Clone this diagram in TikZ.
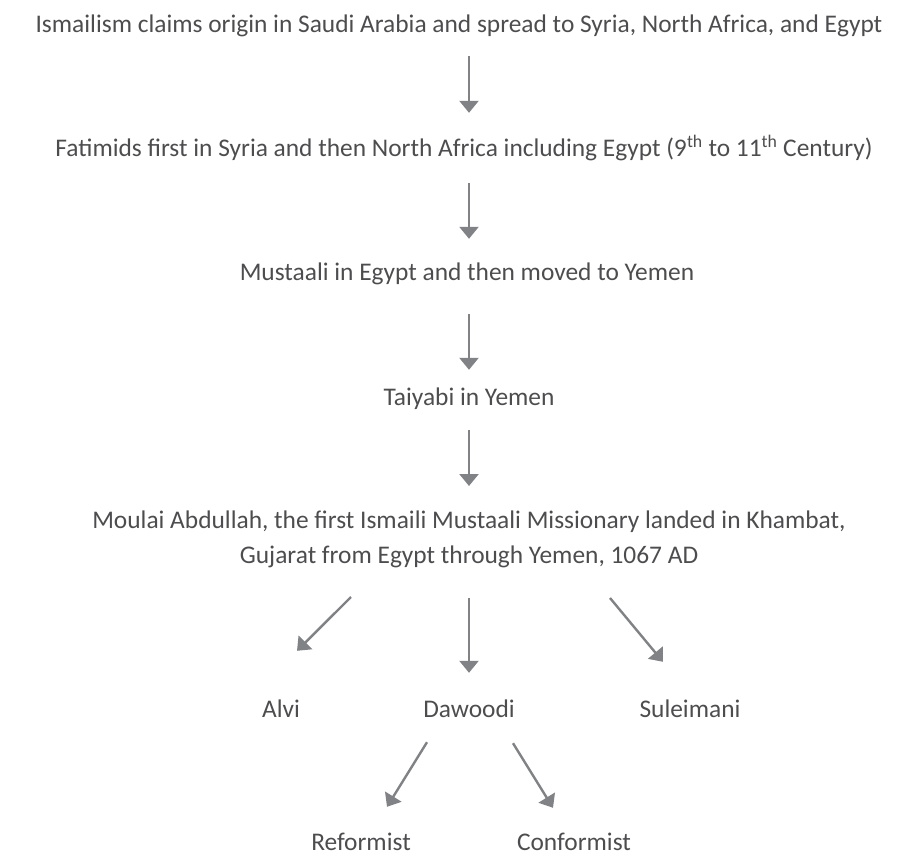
\documentclass[tikz,border=0pt]{standalone}
\usepackage{fontspec}
\setmainfont{Carlito}
\usetikzlibrary{arrows.meta}
\definecolor{txtgray}{HTML}{4D4D4F}
\definecolor{arrgray}{HTML}{808285}
\tikzset{
  lbl/.style={inner sep=0pt, anchor=base, text=txtgray, font=\fontsize{25.4}{35}\selectfont,
    text height=17pt, text depth=2pt},
  arr/.style={arrgray, line width=2.4pt, -{Triangle[width=19pt,length=12pt]}}
}
\begin{document}
\begin{tikzpicture}[x=1pt,y=-1pt]
			\useasboundingbox (0,0) rectangle (919,856);

			\node[lbl] (ism) at (459,33) {Ismailism claims origin in Saudi Arabia and spread to Syria, North Africa, and Egypt};
			\node[lbl] (fat) at (464,157) {Fatimids first in Syria and then North Africa including Egypt (9\textsuperscript{th} to 11\textsuperscript{th} Century)};
			\node[lbl] (mus) at (467,280) {Mustaali in Egypt and then moved to Yemen};
			\node[lbl] (taiy) at (469,405) {Taiyabi in Yemen};
			% two lines: base is the last line
			\node[inner sep=0pt, anchor=base, text=txtgray, font=\fontsize{25.4}{35}\selectfont, align=center] (moul) at (469,563)
			{Moulai Abdullah, the first Ismaili Mustaali Missionary landed in Khambat,\\ Gujarat from Egypt through Yemen, 1067 AD};

			\node[lbl] (alvi) at (281,717) {Alvi};
			\node[lbl] (dawo) at (469,717) {Dawoodi};
			\node[lbl] (sule) at (690,717) {Suleimani};

			\node[lbl] (refo) at (361,850) {Reformist};
			\node[lbl] (conf) at (574,850) {Conformist};

			\draw[arr, shorten <=21pt, shorten >=27pt] (ism.south -| taiy) -- (fat.north -| taiy);
			\draw[arr, shorten <=24pt, shorten >=24pt] (fat.south -| taiy) -- (mus.north -| taiy);
			\draw[arr, shorten <=32pt, shorten >=18pt] (mus.south -| taiy) -- (taiy.north);
			\draw[arr, shorten <=23pt] (taiy.south) -- ([yshift=77pt]moul.base);

			\draw[arr] ([xshift=-118pt,yshift=-34pt]moul.base) -- ([xshift=16pt,yshift=49pt]alvi.north);
			\draw[arr, shorten >=27pt] ([yshift=-35pt]moul.base) -- (dawo.north);
			\draw[arr] ([xshift=141pt,yshift=-35pt]moul.base) -- ([xshift=-27pt,yshift=38pt]sule.north);

			\draw[arr] ([xshift=-42pt,yshift=-23pt]dawo.south) -- ([xshift=26pt,yshift=26pt]refo.north);
			\draw[arr] ([xshift=44pt,yshift=-24pt]dawo.south) -- ([xshift=-21pt,yshift=25pt]conf.north);
		\end{tikzpicture}
\end{document}
